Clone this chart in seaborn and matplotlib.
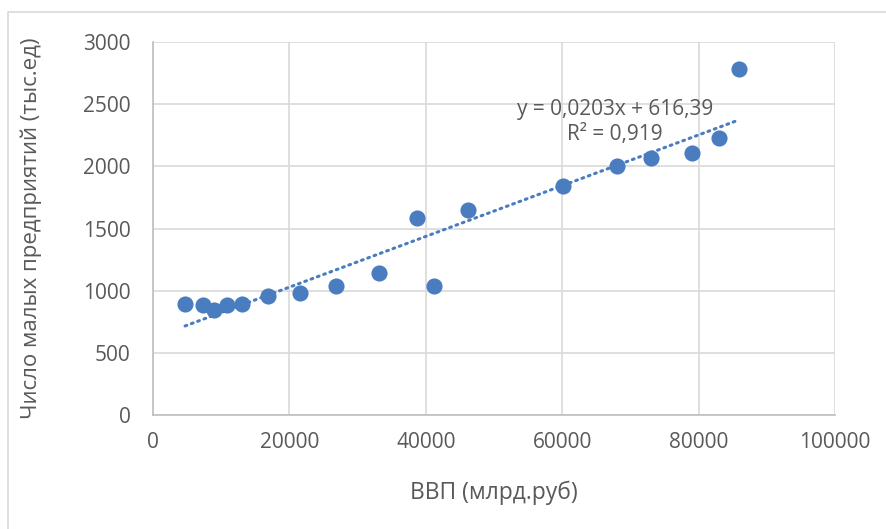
import numpy as np
import pandas as pd
import seaborn as sns
import matplotlib
matplotlib.use('Agg')
import matplotlib.pyplot as plt
from matplotlib.lines import Line2D

# GDP (bn rub) and number of small enterprises (thousand units)
gdp = [4700, 7330, 8940, 10850, 13050, 16860, 21550, 26830, 33140, 38710,
       41200, 46190, 60120, 68040, 73020, 79030, 82990, 85920]
firms = [893, 885, 845, 885, 893, 957, 981, 1038, 1142, 1585,
         1038, 1649, 1842, 2003, 2068, 2108, 2228, 2783]

x_ticks = [0, 20000, 40000, 60000, 80000, 100000]
y_ticks = [0, 500, 1000, 1500, 2000, 2500, 3000]

eq_text = "y = 0,0203x + 616,39\nR² = 0,919"

df = pd.DataFrame({'gdp': gdp, 'firms': firms})

sns.set_style('white')
plt.rcParams['font.family'] = ['Open Sans', 'DejaVu Sans']

blue = '#4a7dbf'
grid_col = '#d9d9d9'
text_col = '#595959'

fig = plt.figure(figsize=(8.86, 5.29), dpi=100)
ax = fig.add_axes([153 / 886, 1 - 415 / 529, 682 / 886, 373 / 529])

sns.regplot(data=df, x='gdp', y='firms', ax=ax, ci=None, truncate=True,
            scatter_kws={'s': 135, 'color': blue, 'alpha': 1, 'linewidths': 0, 'zorder': 3},
            line_kws={'color': blue, 'lw': 2.2, 'linestyle': (0, (0.6, 1.6)),
                      'dash_capstyle': 'round', 'zorder': 2})

ax.set_xlim(0, 100000)
ax.set_ylim(0, 3000)
ax.set_xticks(x_ticks)
ax.set_yticks(y_ticks)
ax.grid(True, color=grid_col, lw=1.2)
ax.set_axisbelow(True)
for side in ['top', 'right']:
    ax.spines[side].set_visible(False)
for side in ['left', 'bottom']:
    ax.spines[side].set_color('#bfbfbf')
    ax.spines[side].set_linewidth(1.2)
ax.tick_params(length=0, labelsize=15, colors=text_col)
ax.tick_params(axis='x', pad=12)
ax.tick_params(axis='y', pad=16)

ax.set_xlabel("ВВП (млрд.руб)", fontsize=16.5, color=text_col)
ax.set_ylabel("Число малых предприятий (тыс.ед)", fontsize=16, color=text_col)
ax.xaxis.set_label_coords(0.5, -0.175)
ax.yaxis.set_label_coords(-0.163, 0.5)

ax.text(67740, 2357, eq_text, ha='center', va='center', multialignment='center',
        fontsize=15, color=text_col, linespacing=1.25)

# light frame of the chart area
fig.add_artist(Line2D([8 / 886, 8 / 886, 1], [0, 1 - 12 / 529, 1 - 12 / 529],
                      transform=fig.transFigure, color=grid_col, lw=1.2))

fig.savefig('out.png', dpi=100)
